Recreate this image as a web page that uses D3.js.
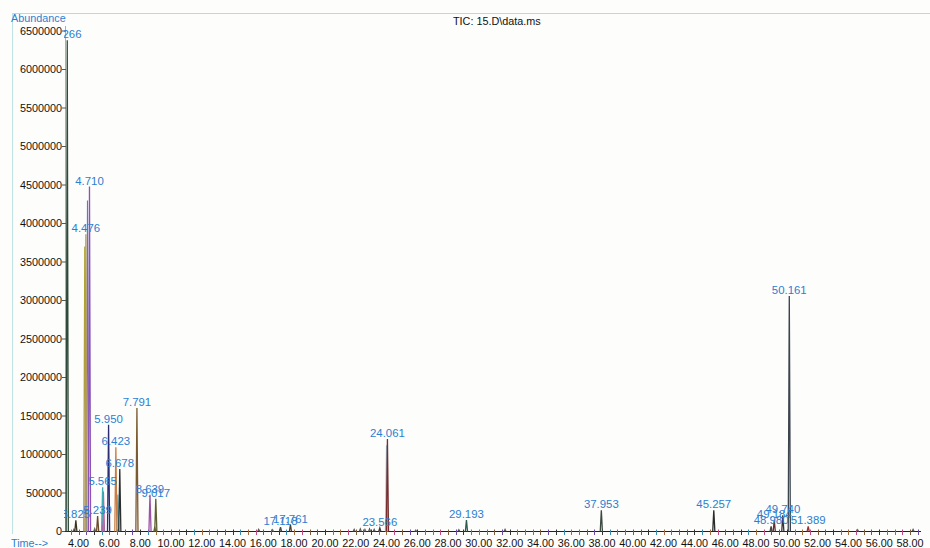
<!DOCTYPE html>
<html><head><meta charset="utf-8">
<script src="https://cdn.jsdelivr.net/npm/d3@7/dist/d3.min.js"></script>
<style>
html,body{margin:0;padding:0;background:#fdfdfc;}
svg{display:block;font-family:Arial,"Liberation Sans",sans-serif;}
</style></head>
<body><svg id="c" width="930" height="548"></svg>
<script>
// ---- data ----
const title = "TIC: 15.D\\data.ms";
const peakTimes   = [3.266, 3.825, 4.476, 4.710, 5.239, 5.565, 5.950, 6.423, 6.678, 7.791, 8.639, 9.017, 17.118, 17.761, 23.566, 24.061, 29.193, 37.953, 45.257, 48.980, 49.184, 49.740, 50.161, 51.389];
const peakHeights = [6380000, 145000, 3860000, 4480000, 200000, 575000, 1385000, 1095000, 810000, 1605000, 478000, 425000, 55000, 88000, 45000, 1200000, 150000, 275000, 275000, 68000, 145000, 210000, 3060000, 68000];
const peakLabels  = ["3.266","3.825","4.476","4.710","5.239","5.565","5.950","6.423","6.678","7.791","8.639","9.017","17.118","17.761","23.566","24.061","29.193","37.953","45.257","48.980","49.184","49.740","50.161","51.389"];
const minorTimes   = [3.70, 4.40, 4.58, 5.05, 5.62, 6.55, 8.95, 15.7, 16.6, 21.9, 22.3, 22.6, 22.9, 23.2, 24.00, 25.9, 28.7, 31.7, 54.6, 58.2];
const minorHeights = [30000, 3700000, 4300000, 40000, 520000, 480000, 60000, 30000, 25000, 30000, 35000, 30000, 35000, 30000, 1120000, 20000, 25000, 30000, 25000, 30000];
const xTickValues = d3.range(4, 58.01, 2);
const yTickValues = d3.range(0, 6500001, 500000);

// ---- styles ----
const peakColors = ["#2f4a38","#3b3322","#b49a62","#8c52b4","#6a4a2a","#3aaeb0","#2c2c72","#c97c44","#2e2e2e","#7a5a30","#9c52a4","#5e5e30","#4a4a40","#4a4030","#3a3a3a","#7a2c2c","#2a5a4a","#3a4a40","#2a2a2a","#444","#603030","#333","#3c444e","#9a3030"];
const minorColors = ["#555","#b0a030","#5080c0","#666","#d050a0","#40b8c0","#7a5a40","#555","#666","#555","#555","#666","#555","#555","#8fc8d8","#666","#555","#555","#666","#555"];
const tickColors = ["#c04a80","#7a5a3a","#6a4aa0","#333","#3a8ab0","#a06a40"];
const blue = "#2b7fd1";

const svg = d3.select("#c");
const x = d3.scaleLinear().domain([3.12, 58.65]).range([65, 920]);
const y = d3.scaleLinear().domain([0, 6500000]).range([531.5, 31]);

// frame
svg.append("line").attr("x1",12).attr("x2",930).attr("y1",13.5).attr("y2",13.5).attr("stroke","#b9dfc2").attr("stroke-width",1);
svg.append("line").attr("x1",12.5).attr("x2",12.5).attr("y1",13).attr("y2",534).attr("stroke","#bfe3e3").attr("stroke-width",1);

// texts
svg.append("text").attr("x",11).attr("y",22).attr("font-size",10.8).attr("fill",blue).text("Abundance");
svg.append("text").attr("x",11).attr("y",547).attr("font-size",10.8).attr("fill",blue).text("Time-->");
svg.append("text").attr("x",453).attr("y",25).attr("font-size",10.8).attr("fill","#111").text(title);

// y axis
const ya = svg.append("g");
ya.append("line").attr("x1",65.5).attr("x2",65.5).attr("y1",26).attr("y2",531.5).attr("stroke","#7cc4bc").attr("stroke-width",1);
ya.selectAll("line.t").data(yTickValues).enter().append("line").attr("class","t")
  .attr("x1",62).attr("x2",66).attr("y1",d=>y(d)).attr("y2",d=>y(d)).attr("stroke","#555");
ya.selectAll("text").data(yTickValues).enter().append("text")
  .attr("x",62).attr("y",d=>y(d)+3.9).attr("text-anchor","end").attr("font-size",10.8).attr("fill","#111").text(d=>d);

// baseline + x ticks
svg.append("line").attr("x1",65).attr("x2",921).attr("y1",531.5).attr("y2",531.5).attr("stroke","#222").attr("stroke-width",1);
const minorTicks = d3.range(3.5, 58.6, 0.5);
svg.selectAll("line.xt").data(minorTicks).enter().append("line").attr("class","xt")
  .attr("x1",d=>Math.round(x(d))+0.5).attr("x2",d=>Math.round(x(d))+0.5).attr("y1",529.5).attr("y2",535)
  .attr("stroke",(d,i)=>tickColors[i%tickColors.length]).attr("stroke-width",1);
svg.selectAll("text.xl").data(xTickValues).enter().append("text").attr("class","xl")
  .attr("x",d=>x(d)).attr("y",547).attr("text-anchor","middle").attr("font-size",10.8).attr("fill","#111").text(d=>d.toFixed(2));

// peaks
const w = 0.07;
const line = d3.line().x(d=>x(d[0])).y(d=>y(d[1]));
const minors = minorTimes.map((t,i)=>({t, h:minorHeights[i], c:minorColors[i]}));
svg.append("g").selectAll("path").data(minors).enter().append("path")
  .attr("d",d=>line([[d.t-w,0],[d.t,d.h],[d.t+w,0]])).attr("fill","none").attr("stroke",d=>d.c).attr("stroke-width",1.1);
const peaks = peakTimes.map((t,i)=>({t, h:peakHeights[i], lab:peakLabels[i], c:peakColors[i]}));
svg.append("g").selectAll("path").data(peaks).enter().append("path")
  .attr("d",d=>line([[d.t-w,0],[d.t,d.h],[d.t+w,0]])).attr("fill","none").attr("stroke",d=>d.c).attr("stroke-width",1.3);

// labels
svg.append("clipPath").attr("id","lc").append("rect").attr("x",64).attr("y",0).attr("width",866).attr("height",548);
svg.append("g").attr("clip-path","url(#lc)").selectAll("text").data(peaks).enter().append("text")
  .attr("x",d=>x(d.t)).attr("y",d=>y(d.h)-2).attr("text-anchor","middle").attr("font-size",11.4).attr("fill",blue).text(d=>d.lab);
</script></body></html>
